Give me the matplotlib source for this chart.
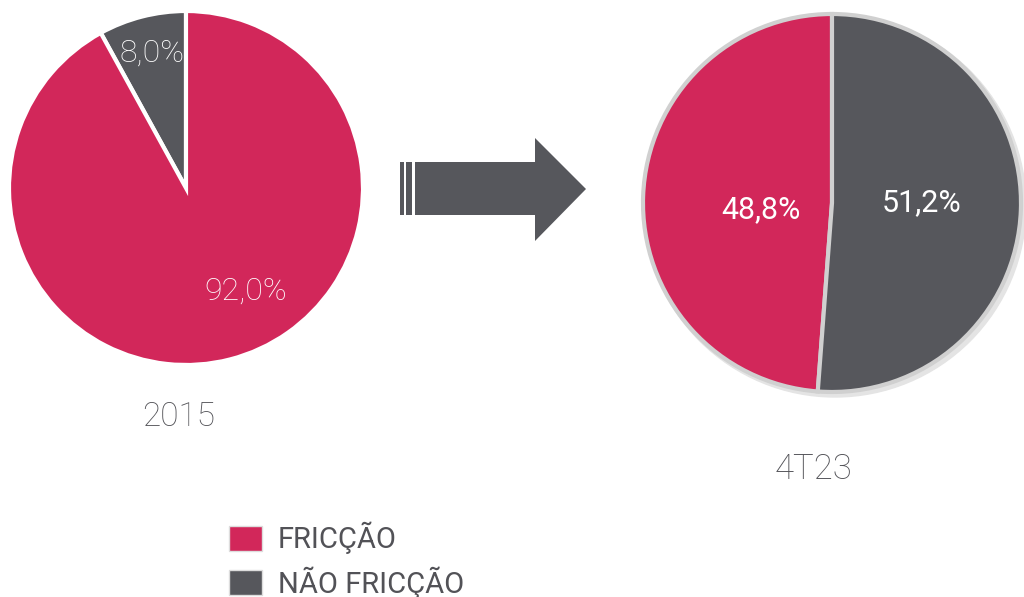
import matplotlib.pyplot as plt
from matplotlib.patches import Polygon, Rectangle, Circle, Patch

plt.rcParams['font.family'] = ['Roboto', 'DejaVu Sans']

# dados
categorias = ['FRICÇÃO', 'NÃO FRICÇÃO']
periodos = ['2015', '4T23']
valores_2015 = [92.0, 8.0]
valores_4t23 = [48.8, 51.2]

rosa = '#d2275a'
cinza = '#56575c'
texto = '#525257'


def fmt(v):
    return f"{v:.1f}%".replace('.', ',')


fig = plt.figure(figsize=(10.24, 5.97), dpi=100)
ax = fig.add_axes([0, 0, 1, 1])

# pizza 2015 (centro em pixels, y invertido a mao)
c1 = (186, 597 - 188)
r1 = 177
w1, _ = ax.pie(valores_2015[::-1], colors=[cinza, rosa], startangle=90,
               center=c1, radius=r1,
               wedgeprops=dict(edgecolor='white', linewidth=3))
ax.text(c1[0] - 34, c1[1] + 135, fmt(valores_2015[1]), color='white',
        fontsize=23, fontweight='light', ha='center', va='center')
ax.text(c1[0] + 60, c1[1] - 103, fmt(valores_2015[0]), color='white',
        fontsize=23, fontweight='light', ha='center', va='center')
ax.text(c1[0] - 7, 597 - 417, periodos[0], color=texto, fontsize=24,
        fontweight='light', ha='center', va='center')

# pizza 4T23
c2 = (832, 597 - 203)
r2 = 189
ax.add_patch(Circle((c2[0] + 3, c2[1] - 3), r2 + 2, color='#e4e4e4', zorder=0))
w2, _ = ax.pie(valores_4t23, colors=[rosa, cinza], startangle=90,
               center=c2, radius=r2,
               wedgeprops=dict(edgecolor='#d0d0d0', linewidth=3))
ax.text(c2[0] - 71, c2[1] - 7, fmt(valores_4t23[0]), color='white',
        fontsize=22, ha='center', va='center')
ax.text(c2[0] + 90, c2[1], fmt(valores_4t23[1]), color='white',
        fontsize=22, ha='center', va='center')
ax.text(813, 597 - 469, periodos[1], color=texto, fontsize=25,
        fontweight='light', ha='center', va='center')

# seta
seta = [(415, 597 - 162), (535, 597 - 162), (535, 597 - 138), (586, 597 - 189),
        (535, 597 - 241), (535, 597 - 215), (415, 597 - 215)]
ax.add_patch(Polygon(seta, closed=True, color=cinza, lw=0))
ax.add_patch(Rectangle((400, 597 - 215), 3.5, 53, color=cinza, lw=0))
ax.add_patch(Rectangle((406, 597 - 215), 6, 53, color=cinza, lw=0))

# legenda
handles = [Patch(facecolor=rosa, edgecolor='#dddddd', label=categorias[0]),
           Patch(facecolor=cinza, edgecolor='#dddddd', label=categorias[1])]
ax.legend(handles=handles, loc='upper left', bbox_to_anchor=(229 / 1024, 1 - 522 / 597),
          frameon=False, fontsize=21, handlelength=1.12, handleheight=0.92,
          handletextpad=0.55, labelspacing=0.4, borderpad=0, borderaxespad=0,
          labelcolor=texto)

ax.set_xlim(0, 1024)
ax.set_ylim(0, 597)
ax.set_aspect('equal')
ax.axis('off')

fig.savefig('out.png', dpi=100)
